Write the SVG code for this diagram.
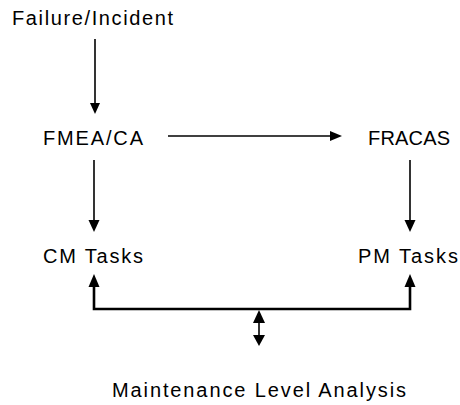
<svg xmlns="http://www.w3.org/2000/svg" width="460" height="405" viewBox="0 0 460 405">
<style>
text{font-family:"Liberation Sans",Arial,sans-serif;font-size:20px;fill:#000}
.thin{stroke:#000;stroke-width:1.6;fill:none}
.thick{stroke:#000;stroke-width:2.6;fill:none}
.head{fill:#000;stroke:none}
</style>
<rect width="460" height="405" fill="#fff"/>
<g id="failure"><text x="12" y="25" textLength="161" lengthAdjust="spacing">Failure/Incident</text></g>
<g id="fmea"><text x="43" y="145" textLength="100" lengthAdjust="spacing">FMEA/CA</text></g>
<g id="fracas"><text x="368" y="145" textLength="82" lengthAdjust="spacing">FRACAS</text></g>
<g id="cm"><text x="43" y="263" textLength="100" lengthAdjust="spacing">CM Tasks</text></g>
<g id="pm"><text x="358" y="263" textLength="100" lengthAdjust="spacing">PM Tasks</text></g>
<g id="mla"><text x="112" y="397" textLength="294" lengthAdjust="spacing">Maintenance Level Analysis</text></g>
<g id="connectors">
<line class="thin" x1="95" y1="39" x2="95" y2="104"/>
<polygon class="head" points="90,103 100,103 95,114"/>
<line class="thin" x1="168" y1="136" x2="331" y2="136"/>
<polygon class="head" points="330,131 330,141 342,136"/>
<line class="thin" x1="94" y1="160" x2="94" y2="222"/>
<polygon class="head" points="88.5,220 99.5,220 94,232"/>
<line class="thin" x1="410" y1="160" x2="410" y2="222"/>
<polygon class="head" points="404.5,220 415.5,220 410,232"/>
<polyline class="thick" points="94,285 94,309 410,309 410,285"/>
<polygon class="head" points="88.5,287 99.5,287 94,274"/>
<polygon class="head" points="404.5,287 415.5,287 410,274"/>
<line class="thin" x1="259" y1="320" x2="259" y2="336"/>
<polygon class="head" points="253,323 265,323 259,310"/>
<polygon class="head" points="253,335 265,335 259,346"/>
</g>
</svg>
